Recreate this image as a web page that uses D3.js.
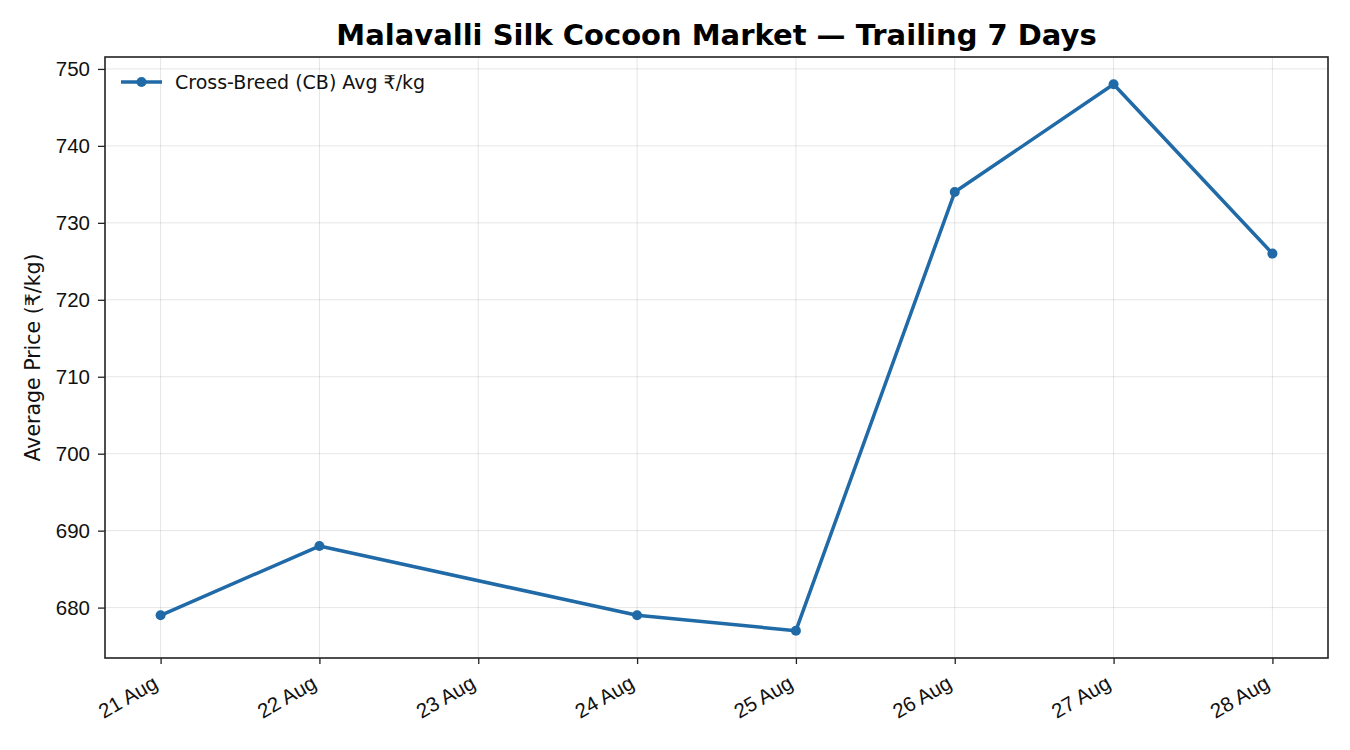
<!DOCTYPE html>
<html>
<head>
<meta charset="utf-8">
<script src="https://cdn.jsdelivr.net/npm/d3@7"></script>
<style>
  body { margin: 0; background: #fff; }
  svg { font-family: "DejaVu Sans", sans-serif; }
  .axis path, .axis line { stroke: #222; }
  .axis text { fill: #111; font-size: 20.5px; }
  .grid line { stroke: #000; stroke-opacity: 0.1; }
</style>
</head>
<body>
<div id="chart"></div>
<script>
// day of month (August) and CB average price, 23 Aug has no auction
const days = [21, 22, 24, 25, 26, 27, 28];
const prices = [679, 688, 679, 677, 734, 748, 726];
const tickDays = [21, 22, 23, 24, 25, 26, 27, 28];
const yTicks = [680, 690, 700, 710, 720, 730, 740, 750];

const W = 1350, H = 750;
const margin = {top: 57, right: 22, bottom: 92, left: 105};
const width = W - margin.left - margin.right;
const height = H - margin.top - margin.bottom;

const data = days.map((d, i) => ({day: d, value: prices[i]}));

const svg = d3.select("#chart").append("svg")
    .attr("width", W)
    .attr("height", H);

const g = svg.append("g")
    .attr("transform", "translate(" + margin.left + "," + margin.top + ")");

// matplotlib-like 5% padding on both axes
const xPad = (d3.max(days) - d3.min(days)) * 0.05;
const yMin = d3.min(prices), yMax = d3.max(prices);
const yPad = (yMax - yMin) * 0.05;

const x = d3.scaleLinear()
    .domain([d3.min(days) - xPad, d3.max(days) + xPad])
    .range([0, width]);

const y = d3.scaleLinear()
    .domain([yMin - yPad, yMax + yPad])
    .range([height, 0]);

// grid
g.append("g").attr("class", "grid")
    .selectAll("line.v").data(tickDays).enter().append("line")
    .attr("x1", d => x(d)).attr("x2", d => x(d))
    .attr("y1", 0).attr("y2", height);
g.append("g").attr("class", "grid")
    .selectAll("line.h").data(yTicks).enter().append("line")
    .attr("x1", 0).attr("x2", width)
    .attr("y1", d => y(d)).attr("y2", d => y(d));

// axes
const xAxis = d3.axisBottom(x)
    .tickValues(tickDays)
    .tickFormat(d => d + " Aug")
    .tickSize(6).tickSizeOuter(0);

const xg = g.append("g")
    .attr("class", "x-axis axis")
    .attr("transform", "translate(0," + height + ")")
    .call(xAxis);
xg.select(".domain").remove();
xg.selectAll("line").attr("stroke-width", 1.3);
xg.selectAll("text")
    .attr("text-anchor", "end")
    .attr("dy", 0)
    .attr("y", 0).attr("x", 0)
    .attr("transform", "translate(-2,29) rotate(-30)");

const yg = g.append("g")
    .attr("class", "y-axis axis")
    .call(d3.axisLeft(y).tickValues(yTicks).tickSize(7).tickPadding(8).tickSizeOuter(0));
yg.select(".domain").remove();
yg.selectAll("line").attr("stroke-width", 1.3);

// frame
g.append("rect")
    .attr("width", width).attr("height", height)
    .attr("fill", "none").attr("stroke", "#222").attr("stroke-width", 1.6);

// line + markers
const lineColor = "#1f6aa7";
const line = d3.line().x(d => x(d.day)).y(d => y(d.value));

g.append("path")
    .datum(data)
    .attr("fill", "none")
    .attr("stroke", lineColor)
    .attr("stroke-width", 3.5)
    .attr("stroke-linejoin", "round")
    .attr("d", line);

g.selectAll("circle.pt").data(data).enter().append("circle")
    .attr("class", "pt")
    .attr("cx", d => x(d.day)).attr("cy", d => y(d.value))
    .attr("r", 5)
    .attr("fill", lineColor);

// legend
const lg = g.append("g").attr("transform", "translate(16,25)");
lg.append("line").attr("x1", 0).attr("x2", 41).attr("y1", 0).attr("y2", 0)
    .attr("stroke", lineColor).attr("stroke-width", 3.5);
lg.append("circle").attr("cx", 20.5).attr("cy", 0).attr("r", 5).attr("fill", lineColor);
lg.append("text").attr("x", 54).attr("y", 0).attr("dy", "0.35em")
    .attr("font-size", "19px").attr("fill", "#111")
    .text("Cross-Breed (CB) Avg ₹/kg");

// title and axis label
svg.append("text")
    .attr("x", margin.left + width / 2).attr("y", 45)
    .attr("text-anchor", "middle")
    .attr("font-size", "29px").attr("font-weight", "bold").attr("fill", "#000")
    .text("Malavalli Silk Cocoon Market — Trailing 7 Days");

svg.append("text")
    .attr("transform", "translate(40," + (margin.top + height / 2) + ") rotate(-90)")
    .attr("text-anchor", "middle")
    .attr("font-size", "20.5px").attr("fill", "#111")
    .text("Average Price (₹/kg)");
</script>
</body>
</html>
